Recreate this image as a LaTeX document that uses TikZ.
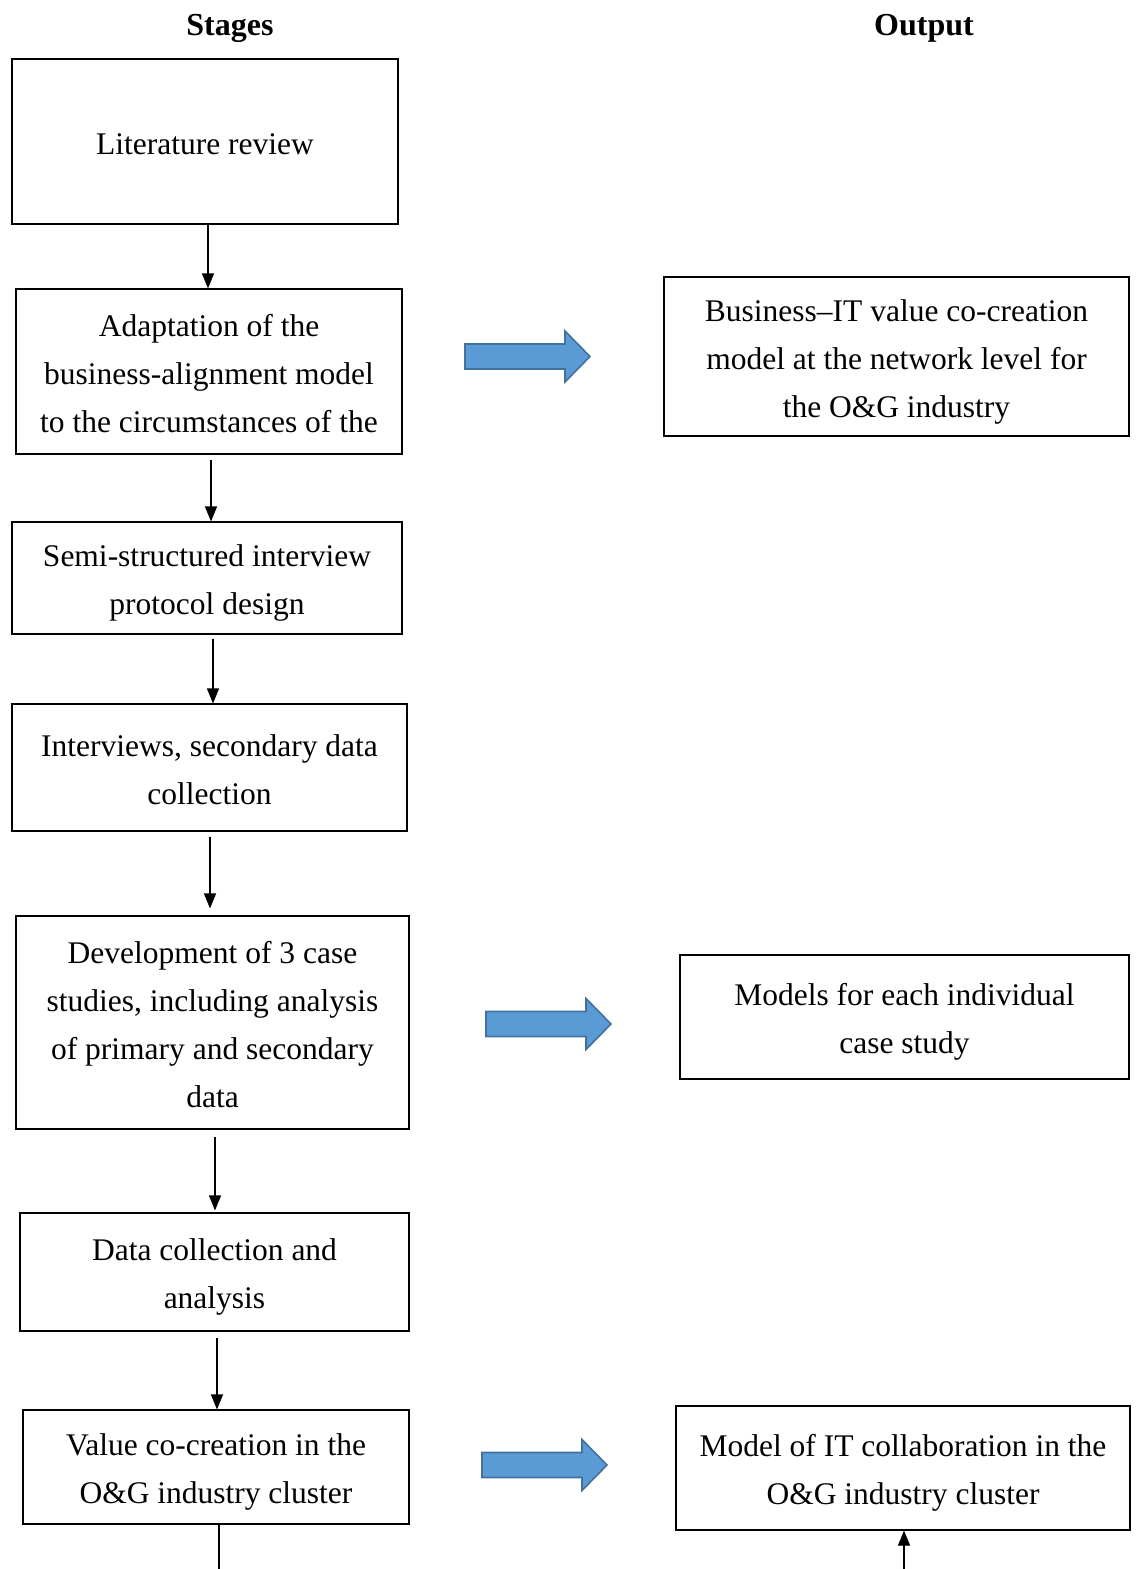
\documentclass[tikz,border=0pt]{standalone}
\usepackage{fontspec}
\setmainfont{Liberation Serif}
\usetikzlibrary{arrows.meta}
\definecolor{arrowfill}{HTML}{5B9BD5}
\definecolor{arrowedge}{HTML}{41719C}
% fixed line extents so every box places its text the same way
\newcommand\firstline{\rule{0pt}{32pt}}
\newcommand\lastline{\rule[-7pt]{0pt}{7pt}}
\begin{document}
\begin{tikzpicture}[x=1pt,y=-1pt,
  txt/.style={font=\fontsize{31.5pt}{48pt}\selectfont, align=center, inner sep=0pt},
  head/.style={font=\fontsize{32pt}{40pt}\selectfont\bfseries, inner sep=0pt},
  stagebox/.style={txt, draw, line width=1.1pt},
  conn/.style={line width=1.1pt, -{Triangle[length=15pt,width=12pt]}},
  fatarrow/.pic={\draw[fill=arrowfill, draw=arrowedge, line width=1.6pt, line join=miter]
     (0,-12.5) -- (100,-12.5) -- (100,-25.5) -- (125,0) -- (100,25.5) -- (100,12.5) -- (0,12.5) -- cycle;}]
\useasboundingbox (0,0) rectangle (1138,1569);

% column headings
\node[head] (hstages) at (230,28) {Stages};
\node[head] (houtput) at (924,28) {Output};

% stages
\node[stagebox, minimum width=386pt, minimum height=165pt] (s1) at (205,141.5)
  {\firstline Literature review\lastline};
\node[stagebox, minimum width=386pt, minimum height=165pt] (s2) at (209,371.5)
  {\firstline Adaptation of the\\ business-alignment model\\ to the circumstances of the\lastline};
\node[stagebox, minimum width=390pt, minimum height=112pt] (s3) at (207,578)
  {\firstline Semi-structured interview\\ protocol design\lastline};
\node[stagebox, minimum width=395pt, minimum height=127pt] (s4) at (209.5,767.5)
  {\firstline Interviews, secondary data\\ collection\lastline};
\node[stagebox, minimum width=393pt, minimum height=213pt] (s5) at (212.5,1022.5)
  {\firstline Development of 3 case\\ studies, including analysis\\ of primary and secondary\\ data\lastline};
\node[stagebox, minimum width=389pt, minimum height=118pt] (s6) at (214.5,1272)
  {\firstline Data collection and\\ analysis\lastline};
\node[stagebox, minimum width=386pt, minimum height=114pt] (s7) at (216,1467)
  {\firstline Value co-creation in the\\ O\&G industry cluster\lastline};

% outputs
\node[stagebox, minimum width=465pt, minimum height=159pt] (o1) at (896.5,356.5)
  {\firstline Business–IT value co-creation\\ model at the network level for\\ the O\&G industry\lastline};
\node[stagebox, minimum width=449pt, minimum height=124pt] (o2) at (904.5,1017)
  {\firstline Models for each individual\\ case study\lastline};
\node[stagebox, minimum width=454pt, minimum height=124pt] (o3) at (903,1468)
  {\firstline Model of IT collaboration in the\\ O\&G industry cluster\lastline};

% stage-to-stage connectors
\draw[conn] (s1.south -| 208,0) -- (s2.north -| 208,0);
\draw[conn, shorten <=5pt] (s2.south -| 211,0) -- (s3.north -| 211,0);
\draw[conn, shorten <=4pt] (s3.south -| 213,0) -- (s4.north -| 213,0);
\draw[conn, shorten <=5pt, shorten >=7pt] (s4.south -| 210,0) -- (s5.north -| 210,0);
\draw[conn, shorten <=7pt, shorten >=2pt] (s5.south -| 215,0) -- (s6.north -| 215,0);
\draw[conn, shorten <=6pt] (s6.south -| 217,0) -- (s7.north -| 217,0);

% lines leaving the lower edge
\coordinate (endleft) at (219,1569);
\coordinate (endright) at (904,1569);
\draw[line width=1.1pt] (s7.south -| endleft) -- (endleft);
\draw[conn] (endright) -- (o3.south -| endright);

% block arrows from stages to outputs
\pic at (465,356.5) {fatarrow};
\pic at (486,1024) {fatarrow};
\pic at (482,1465) {fatarrow};
\end{tikzpicture}
\end{document}
